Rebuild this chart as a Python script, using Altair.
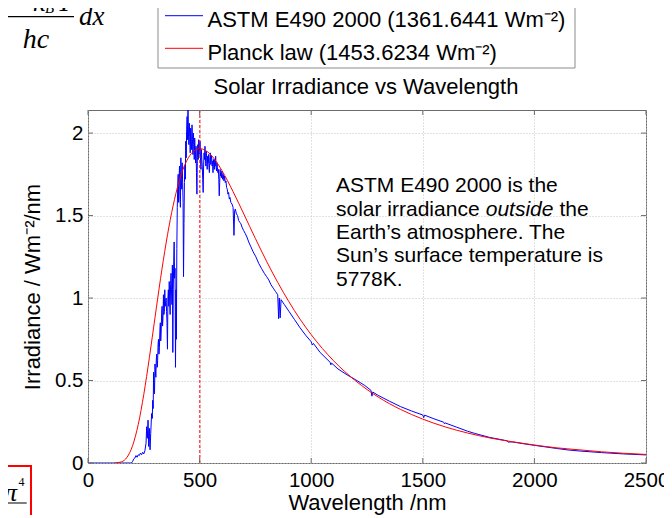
import altair as alt
import pandas as pd

# ---------------- data ----------------
astm_nm = [0, 150, 195, 200, 205, 210, 215, 220, 225, 230, 235, 240, 245, 250, 255,
           260, 263, 266, 269, 272, 275, 278, 281, 285, 288, 290, 292, 294, 296, 298,
           300, 302, 304, 306, 308, 310, 312, 314, 316, 318, 320, 322, 324, 326, 328,
           330, 332, 334, 336, 338, 340, 342, 344, 346, 348, 350, 352, 354, 356, 358,
           360, 362, 364, 366, 368, 370, 372, 374, 376, 378, 380, 382, 384, 386, 388,
           390, 392, 394, 396, 398, 400, 402, 404, 406, 408, 410, 412, 414, 416, 418,
           420, 422, 424, 426, 428, 430, 432, 434, 436, 438, 440, 442, 444, 446, 448,
           450, 452, 454, 456, 458, 460, 462, 464, 466, 468, 470, 472, 474, 476, 478,
           480, 482, 484, 486, 488, 490, 492, 494, 496, 498, 500, 502, 504, 506, 508,
           510, 512, 514, 516, 518, 520, 522, 524, 526, 528, 530, 532, 534, 536, 538,
           540, 542, 544, 546, 548, 550, 552, 554, 556, 558, 560, 562, 564, 566, 568,
           570, 572, 574, 576, 578, 580, 582, 584, 586, 588, 590, 592, 594, 596, 598,
           600, 603, 606, 609, 612, 615, 618, 621, 624, 627, 630, 633, 636, 640, 645,
           650, 654, 657, 660, 665, 670, 675, 680, 685, 690, 697, 705, 712, 720, 730,
           740, 752, 765, 777, 790, 800, 810, 820, 830, 840, 850, 854, 857, 861, 865,
           880, 900, 925, 950, 975, 1000, 1005, 1010, 1040, 1085, 1088, 1092, 1120, 1160,
           1200, 1240, 1268, 1272, 1276, 1300, 1350, 1400, 1450, 1500, 1504, 1508, 1550,
           1594, 1597, 1600, 1650, 1700, 1731, 1800, 1850, 1879, 1882, 1900, 1950, 2000,
           2100, 2151, 2200, 2300, 2400, 2500]
astm_irr = [0, 0, 0, 0.01, 0.025, 0.03, 0.045, 0.035, 0.05, 0.045, 0.06, 0.05, 0.065, 0.055, 0.075,
            0.12, 0.22, 0.15, 0.26, 0.10, 0.21, 0.08, 0.18, 0.30, 0.27, 0.38, 0.33, 0.55, 0.45, 0.42,
            0.60, 0.56, 0.52, 0.63, 0.66, 0.58, 0.62, 0.72, 0.75, 0.66, 0.70, 0.80, 0.85, 0.74, 0.80,
            0.91, 0.95, 0.83, 0.88, 1.02, 0.90, 0.92, 1.05, 0.95, 0.97, 1.00, 0.92, 0.85, 0.69, 1.00,
            1.05, 0.95, 1.10, 0.98, 0.90, 1.08, 1.15, 1.05, 0.96, 1.20, 0.67, 1.05, 1.22, 1.34, 1.12,
            1.18, 0.58, 1.05, 0.75, 1.30, 1.55, 1.68, 1.75, 1.58, 1.72, 1.80, 1.62, 1.55, 1.85, 1.72,
            1.66, 1.82, 1.70, 1.58, 1.13, 1.45, 1.70, 1.80, 1.72, 1.95, 1.85, 2.02, 2.10, 1.96, 2.14,
            2.00, 1.93, 2.06, 1.98, 1.88, 2.03, 1.95, 1.90, 2.05, 1.96, 1.87, 2.00, 1.93, 1.84, 1.97,
            1.90, 1.82, 1.92, 1.76, 1.63, 1.85, 1.93, 1.84, 1.96, 1.87, 1.91, 1.95, 1.85, 1.78, 1.90,
            1.84, 1.80, 1.72, 1.64, 1.80, 1.88, 1.84, 1.92, 1.86, 1.80, 1.89, 1.85, 1.78, 1.86, 1.82,
            1.87, 1.79, 1.76, 1.85, 1.88, 1.81, 1.84, 1.86, 1.80, 1.83, 1.76, 1.84, 1.81, 1.78, 1.84,
            1.80, 1.86, 1.79, 1.77, 1.82, 1.79, 1.76, 1.78, 1.72, 1.62, 1.70, 1.78, 1.74, 1.76, 1.73,
            1.77, 1.72, 1.75, 1.71, 1.74, 1.70, 1.71, 1.67, 1.66, 1.63, 1.64, 1.60, 1.61, 1.58, 1.57,
            1.55, 1.38, 1.53, 1.54, 1.51, 1.50, 1.47, 1.46, 1.45, 1.43, 1.41, 1.39, 1.37, 1.34, 1.31,
            1.28, 1.25, 1.21, 1.18, 1.15, 1.13, 1.11, 1.08, 1.06, 1.04, 1.02, 0.875, 1.00, 0.88, 0.99,
            0.96, 0.92, 0.87, 0.82, 0.775, 0.735, 0.715, 0.725, 0.67, 0.61, 0.595, 0.605, 0.57, 0.535,
            0.504, 0.47, 0.44, 0.405, 0.43, 0.41, 0.375, 0.342, 0.315, 0.291, 0.275, 0.29, 0.268,
            0.247, 0.238, 0.243, 0.218, 0.193, 0.18, 0.155, 0.142, 0.134, 0.127, 0.128, 0.117, 0.107,
            0.088, 0.079, 0.073, 0.063, 0.055, 0.049]

planck_nm = [120, 150, 175, 200, 225, 250, 275, 300, 325, 350, 375, 400, 425, 450, 475,
             500, 525, 550, 600, 650, 700, 750, 800, 850, 900, 950, 1000, 1100, 1200, 1300,
             1400, 1500, 1600, 1700, 1800, 1900, 2000, 2100, 2200, 2300, 2400, 2500]
planck_irr = [0.0003, 0.007, 0.035, 0.106, 0.233, 0.416, 0.639, 0.880, 1.118, 1.334, 1.519, 1.667,
              1.778, 1.851, 1.892, 1.906, 1.896, 1.869, 1.773, 1.645, 1.504, 1.361, 1.223, 1.095,
              0.978, 0.872, 0.778, 0.620, 0.497, 0.400, 0.325, 0.266, 0.219, 0.182, 0.152, 0.129,
              0.109, 0.092, 0.080, 0.068, 0.059, 0.052]

peak_nm = [501]
x_ticks = [0, 500, 1000, 1500, 2000, 2500]
y_ticks = [0, 0.5, 1, 1.5, 2]

chart_title = "Solar Irradiance vs Wavelength"
x_title = "Wavelength /nm"
y_title = "Irradiance / Wm\u207b\u00b2/nm"
legend_labels = ["ASTM E490 2000 (1361.6441 Wm\u207b\u00b2)", "Planck law (1453.6234 Wm\u207b\u00b2)"]
note_lines = ["ASTM E490 2000 is the", "solar irradiance", "outside", "the",
              "Earth\u2019s atmosphere. The", "Sun\u2019s surface temperature is", "5778K."]

# ---------------- layout / style ----------------
FONT = "Liberation Sans, Arial, Helvetica, sans-serif"
SERIF = "Liberation Serif, Times New Roman, serif"
W, H = 558, 353
OX, OY = 88, 110          # page position of the plot origin
FRAME = "#6b6b6b"
BLUE, RED = "#0000ff", "#ff0000"


def px(x):
    return x - OX


def py(y):
    return y - OY


one = pd.DataFrame({"k": [0]})


def label(text, x, y, size, font=FONT, align="left", style="normal", color="black"):
    return alt.Chart(one).mark_text(
        text=text, font=font, fontSize=size, fontStyle=style, align=align,
        baseline="alphabetic", color=color
    ).encode(x=alt.value(px(x)), y=alt.value(py(y)))


def hline(x1, x2, y, color, width=1.0):
    return alt.Chart(one).mark_rule(color=color, strokeWidth=width).encode(
        x=alt.value(px(x1)), x2=alt.value(px(x2)), y=alt.value(py(y)))


xs = alt.Scale(domain=[0, 2500], nice=False, zero=False)
ys = alt.Scale(domain=[0, 2.14], nice=False, zero=False)

x_axis = alt.Axis(values=x_ticks, format="d", title=x_title, titleFont=FONT, titleFontSize=22,
                  titleFontWeight="normal", titleColor="black", titlePadding=2,
                  labelFont=FONT, labelFontSize=20.5, labelColor="black", labelPadding=7,
                  labelFlush=False, ticks=False, tickSize=0, domain=False, grid=True,
                  gridColor="#c4c4c4", gridDash=[1, 2], gridWidth=1)
y_axis = alt.Axis(values=y_ticks, format="~g", title=y_title, titleFont=FONT, titleFontSize=22,
                  titleFontWeight="normal", titleColor="black", titlePadding=10,
                  labelFont=FONT, labelFontSize=20.5, labelColor="black", labelPadding=5,
                  labelFlush=False, ticks=False, tickSize=0, domain=False, grid=True,
                  gridColor="#c4c4c4", gridDash=[1, 2], gridWidth=1)

astm = alt.Chart(pd.DataFrame({"nm": astm_nm, "irr": astm_irr})).mark_line(
    color=BLUE, strokeWidth=1, clip=True
).encode(x=alt.X("nm:Q", scale=xs, axis=x_axis), y=alt.Y("irr:Q", scale=ys, axis=y_axis))

planck = alt.Chart(pd.DataFrame({"nm": planck_nm, "irr": planck_irr})).mark_line(
    color=RED, strokeWidth=1, interpolate="monotone", clip=True
).encode(x=alt.X("nm:Q", scale=xs), y=alt.Y("irr:Q", scale=ys))

peak = alt.Chart(pd.DataFrame({"nm": peak_nm})).mark_rule(
    color=RED, strokeWidth=1, strokeDash=[3, 2]
).encode(x=alt.X("nm:Q", scale=xs), y=alt.value(0), y2=alt.value(H))

xt = pd.DataFrame({"nm": x_ticks})
yt = pd.DataFrame({"irr": y_ticks})
tick_b = alt.Chart(xt).mark_rule(color=FRAME).encode(
    x=alt.X("nm:Q", scale=xs), y=alt.value(H), y2=alt.value(H - 5))
tick_t = alt.Chart(xt).mark_rule(color=FRAME).encode(
    x=alt.X("nm:Q", scale=xs), y=alt.value(0), y2=alt.value(5))
tick_l = alt.Chart(yt).mark_rule(color=FRAME).encode(
    y=alt.Y("irr:Q", scale=ys), x=alt.value(0), x2=alt.value(5))
tick_r = alt.Chart(yt).mark_rule(color=FRAME).encode(
    y=alt.Y("irr:Q", scale=ys), x=alt.value(W), x2=alt.value(W - 5))

# legend box (cut at the top like the reference)
legend_box = alt.Chart(one).mark_rect(fill="white", stroke="#8c8c8c", strokeWidth=1).encode(
    x=alt.value(px(158)), x2=alt.value(px(575)), y=alt.value(py(-20)), y2=alt.value(py(68)))
leg_line1 = hline(165, 203, 15.7, BLUE)
leg_line2 = hline(165, 203, 48.3, RED)
leg_text1 = label(legend_labels[0], 207.5, 26.7, 22)
leg_text2 = label(legend_labels[1], 207.5, 60, 22)

title = label(chart_title, 366, 94, 22, align="center")

notes = [
    label(note_lines[0], 336, 192.3, 21),
    label(note_lines[1], 336, 215.6, 21),
    label(note_lines[2], 485.7, 215.6, 21, style="italic"),
    label(note_lines[3], 559.5, 215.6, 21),
    label(note_lines[4], 336, 238.9, 21),
    label(note_lines[5], 336, 262.2, 21),
    label(note_lines[6], 336, 285.5, 21),
]

# slide fragments around the chart
frac_top = hline(0, 74, 16.7, "black", 1.3)
hc = label("hc", 36, 47.7, 28, font=SERIF, align="center", style="italic")
dx = label("dx", 79, 25, 27, font=SERIF, style="italic")
k_txt = label("k", 33, 11, 27, font=SERIF, style="italic")
b_txt = label("B", 45, 12.7, 15, font=SERIF, style="italic")
t_txt = label("T", 57, 11, 27, font=SERIF, style="italic")
red_box = alt.Chart(one).mark_rect(fill="white", fillOpacity=0, stroke=RED, strokeWidth=2).encode(
    x=alt.value(px(-10)), x2=alt.value(px(31)), y=alt.value(py(466)), y2=alt.value(py(540)))
pi_txt = label("\u03c0", 17, 501, 26, font=SERIF, align="right", style="italic")
four_txt = label("4", 18.5, 486, 12, font=SERIF)
frac_bot = hline(0, 26.7, 503, "#555555", 1.5)

chart = alt.layer(
    legend_box, astm, planck, peak, tick_b, tick_t, tick_l, tick_r,
    leg_line1, leg_line2, leg_text1, leg_text2, title, *notes,
    frac_top, hc, dx, k_txt, b_txt, t_txt, red_box, pi_txt, four_txt, frac_bot
).properties(
    width=W, height=H,
    padding={"left": 80, "top": 102, "right": 18, "bottom": 52},
    autosize=alt.AutoSizeParams(type="none"),
    background="white",
).configure_view(stroke=FRAME, strokeWidth=1)

chart.save("out.html", embed_options={"renderer": "svg", "actions": False})
